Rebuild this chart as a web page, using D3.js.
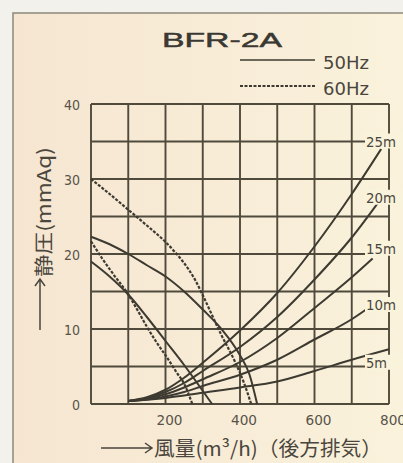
<!DOCTYPE html>
<html>
<head>
<meta charset="utf-8">
<script src="https://cdn.jsdelivr.net/npm/d3@7"></script>
<style>
html,body{margin:0;padding:0;background:#f2f0eb;overflow:hidden}
</style>
</head>
<body>
<svg id="c" width="403" height="463"></svg>
<script>
// ---------------- data ----------------
const title = "BFR-2A";
const legendLabels = ["50Hz", "60Hz"];
const xTickValues = [200, 400, 600, 800];
const yTickValues = [0, 10, 20, 30, 40];
const xGridValues = [0, 100, 200, 300, 400, 500, 600, 700, 800];
const yGridValues = [0, 5, 10, 15, 20, 25, 30, 35, 40];

// fan curves: [flow m3/h, static pressure mmAq]
const fan50Upper = [[0,22.3],[50,21.3],[100,20],[150,18.5],[200,17],[250,15],[300,12.6],[350,10],[400,6.5],[425,4],[446,0]];
const fan50Lower = [[0,19],[50,17],[100,14.6],[150,11.6],[200,8.4],[250,5.2],[285,2.8],[325,0]];
const fan60Upper = [[0,30],[50,28],[100,25.9],[150,23.8],[200,21.6],[230,20.0],[260,18.1],[280,16.5],[300,14.5],[350,9.2],[385,5.8],[410,2.9],[430,0]];
const fan60Lower = [[0,21.7],[30,19.4],[60,17.3],[96,14.9],[125,12.5],[150,10.3],[175,8.3],[204,6.2],[230,4.2],[250,2.7],[272,0]];

// duct resistance curves (duct length)
const ductLabels = ["25m", "20m", "15m", "10m", "5m"];
const ductLabelY = [35, 27.5, 20.7, 13.2, 5.5];
const duct25 = [[100,0.4],[150,0.9],[200,1.9],[250,3.5],[300,5.5],[400,9.8],[500,14.8],[600,21],[700,28],[779,34]];
const duct20 = [[100,0.4],[150,0.8],[200,1.6],[250,2.8],[300,4.4],[400,7.6],[500,11.6],[600,16.6],[700,22.2],[770,26.8]];
const duct15 = [[100,0.4],[150,0.7],[200,1.3],[250,2.2],[300,3.3],[400,5.6],[500,8.8],[600,12.8],[700,16.9],[756,19.4]];
const duct10 = [[100,0.4],[150,0.6],[200,1.0],[250,1.6],[300,2.4],[400,3.9],[500,5.9],[600,8.6],[700,11.3],[750,13]];
const duct5  = [[100,0.4],[200,0.8],[300,1.5],[400,2.2],[500,3.0],[600,4.4],[700,5.9],[800,7.3]];

const yTitle = "静圧(mmAq)";
const xTitle = "風量(m³/h)（後方排気）";

// ---------------- drawing ----------------
const svg = d3.select("#c");
const x = d3.scaleLinear().domain([0, 800]).range([91, 389]);
const y = d3.scaleLinear().domain([0, 40]).range([404, 104]);

const defs = svg.append("defs");
const g = defs.append("linearGradient").attr("id", "bg").attr("x1", 0).attr("x2", 1).attr("y1", 0).attr("y2", 0);
g.append("stop").attr("offset", 0).attr("stop-color", "#f6e6d1");
g.append("stop").attr("offset", 0.5).attr("stop-color", "#f8ecd7");
g.append("stop").attr("offset", 1).attr("stop-color", "#faf3dc");

svg.append("rect").attr("width", 403).attr("height", 463).attr("fill", "#f3f1ec");
svg.append("rect").attr("x", 13).attr("y", 13).attr("width", 420).attr("height", 480)
  .attr("fill", "url(#bg)").attr("stroke", "#8d887b").attr("stroke-width", 1.5);

const gridColor = "#4f4a3c";
const lineColor = "#3d3a31";
const textColor = "#4a463d";
const numFont = "'Liberation Sans Narrow','DejaVu Sans Condensed',Roboto,sans-serif";

// grid
const grid = svg.append("g").attr("stroke", gridColor).attr("stroke-width", 1.9).attr("fill", "none");
grid.selectAll("line.v").data(xGridValues).join("line")
  .attr("x1", d => x(d)).attr("x2", d => x(d)).attr("y1", y(40)).attr("y2", y(0));
grid.selectAll("line.h").data(yGridValues).join("line")
  .attr("y1", d => y(d)).attr("y2", d => y(d)).attr("x1", x(0)).attr("x2", x(800));

// curves
const line = d3.line().x(d => x(d[0])).y(d => y(d[1])).curve(d3.curveMonotoneX);
const curves = svg.append("g").attr("fill", "none").attr("stroke", lineColor).attr("stroke-width", 2);
[duct25, duct20, duct15, duct10, duct5].forEach(s => curves.append("path").attr("d", line(s)));
[fan50Upper, fan50Lower].forEach(s => curves.append("path").attr("d", line(s)));
[fan60Upper, fan60Lower].forEach(s => curves.append("path").attr("d", line(s))
  .attr("stroke-width", 2.2).attr("stroke-dasharray", "3,1.5"));

// right duct labels with masks
const lab = svg.append("g");
ductLabels.forEach((t, i) => {
  const cy = y(ductLabelY[i]);
  lab.append("rect").attr("x", 365).attr("y", cy - 8).attr("width", 38).attr("height", 15).attr("fill", "#faf3dc");
  lab.append("text").attr("x", 366).attr("y", cy + 5).text(t)
    .attr("font-family", numFont).attr("font-size", 14).attr("fill", textColor)
    .attr("textLength", t.length === 3 ? 30 : 21).attr("lengthAdjust", "spacingAndGlyphs");
});

// tick labels
svg.append("g").selectAll("text").data(xTickValues).join("text")
  .attr("x", d => x(d) + 4).attr("y", 425).attr("text-anchor", "middle")
  .attr("font-family", numFont).attr("font-size", 14).attr("fill", "#57534a")
  .attr("textLength", 26).attr("lengthAdjust", "spacingAndGlyphs")
  .text(d => d);
svg.append("g").selectAll("text").data(yTickValues).join("text")
  .attr("x", 80).attr("y", d => y(d) + 6).attr("text-anchor", "end")
  .attr("font-family", numFont).attr("font-size", 14).attr("fill", "#57534a")
  .text(d => d);

// title
svg.append("text").attr("x", 162).attr("y", 47).text(title)
  .attr("font-family", "'Liberation Sans',Arial,sans-serif").attr("font-size", 21).attr("fill", "#3a3832")
  .attr("stroke", "#3a3832").attr("stroke-width", 0.5)
  .attr("textLength", 120).attr("lengthAdjust", "spacingAndGlyphs");

// legend
svg.append("line").attr("x1", 240).attr("x2", 315).attr("y1", 60).attr("y2", 60)
  .attr("stroke", lineColor).attr("stroke-width", 1.6);
svg.append("line").attr("x1", 240).attr("x2", 315).attr("y1", 86).attr("y2", 86)
  .attr("stroke", lineColor).attr("stroke-width", 1.8).attr("stroke-dasharray", "3,1.5");
legendLabels.forEach((t, i) => {
  svg.append("text").attr("x", 323).attr("y", 69 + i * 26).text(t)
    .attr("font-family", numFont).attr("font-size", 17.5).attr("fill", textColor)
    .attr("textLength", 46).attr("lengthAdjust", "spacingAndGlyphs");
});

// y title with arrow
svg.append("path").attr("d", "M40,330 L40,279 M35,286 L40,279 L45,286")
  .attr("fill", "none").attr("stroke", "#4a463d").attr("stroke-width", 1.5);
svg.append("text").attr("transform", "translate(42,277) rotate(-90)")
  .attr("dominant-baseline", "central").text(yTitle)
  .attr("font-family", "'Noto Sans CJK JP',sans-serif").attr("font-size", 19).attr("fill", "#4a463d")
  .attr("textLength", 130).attr("lengthAdjust", "spacingAndGlyphs");

// x title with arrow
svg.append("path").attr("d", "M101,448 L152,448 M145,443 L152,448 L145,453")
  .attr("fill", "none").attr("stroke", "#4a463d").attr("stroke-width", 1.5);
svg.append("text").attr("x", 154).attr("y", 456).text(xTitle)
  .attr("font-family", "'Noto Sans CJK JP',sans-serif").attr("font-size", 20).attr("fill", "#4a463d")
  .attr("textLength", 228).attr("lengthAdjust", "spacingAndGlyphs");
</script>
</body>
</html>
